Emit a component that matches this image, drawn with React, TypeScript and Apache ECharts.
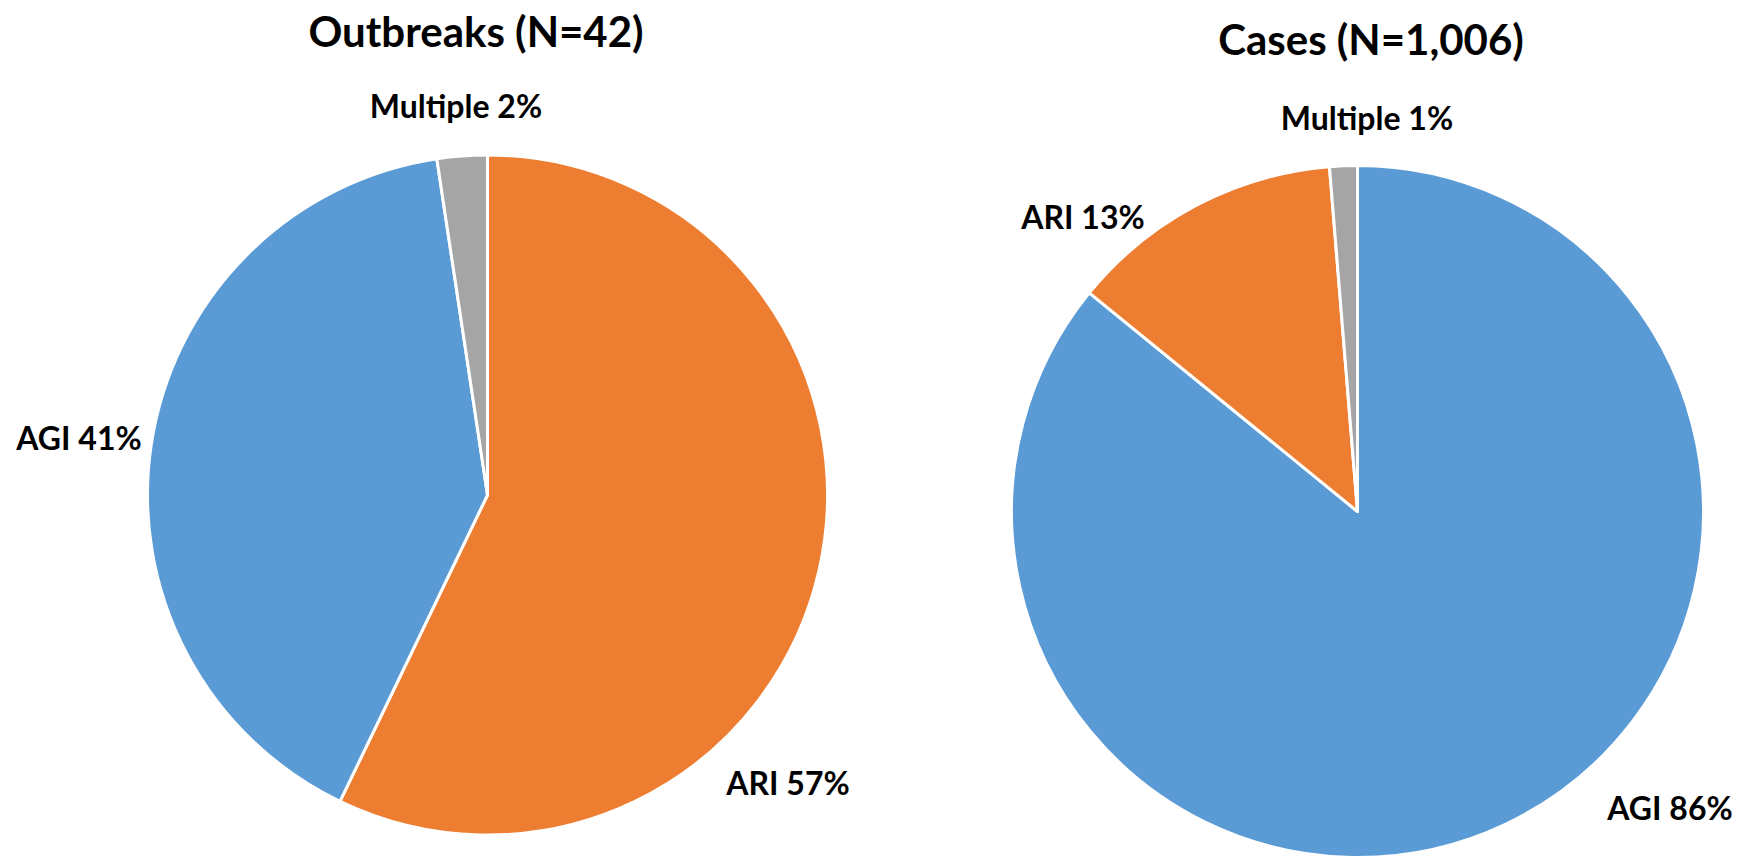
import React, { useEffect, useRef } from "react";
import * as echarts from "echarts";

const outbreakTitle = "Outbreaks (N=42)";
const outbreakCategories = ["ARI", "AGI", "Multiple"];
const outbreakValues = [24, 17, 1];

const caseTitle = "Cases (N=1,006)";
const caseCategories = ["AGI", "ARI", "Multiple"];
const caseValues = [864, 129, 13];

const colorFor: Record<string, string> = {
  ARI: "#ED7D31",
  AGI: "#5B9BD5",
  Multiple: "#A5A5A5",
};

// label anchor positions (layout/style only)
const outbreakLabelPos = [
  [788, 782],
  [79, 437],
  [456, 105],
];
const caseLabelPos = [
  [1670, 807],
  [1083, 216],
  [1367, 117],
];

const FONT = "Lato, 'Open Sans', sans-serif";

export default function App() {
  const ref = useRef<HTMLDivElement>(null);
  useEffect(() => {
    document.body.style.margin = "0";
    const chart = echarts.init(ref.current!, null, { renderer: "svg" });
    const makeSeries = (
      cats: string[],
      vals: number[],
      center: number[],
      radius: number,
      pos: number[][]
    ) => ({
      type: "pie",
      center,
      radius,
      startAngle: 90,
      clockwise: true,
      silent: true,
      percentPrecision: 0,
      avoidLabelOverlap: false,
      data: cats.map((c, i) => ({
        name: c,
        value: vals[i],
        itemStyle: { color: colorFor[c] },
      })),
      itemStyle: { borderColor: "#ffffff", borderWidth: 3 },
      label: {
        show: true,
        position: "outside",
        formatter: "{b} {d}%",
        fontFamily: FONT,
        fontWeight: "bold",
        fontSize: 32,
        color: "#000000",
      },
      labelLine: { show: false },
      labelLayout: (params: any) => ({
        x: pos[params.dataIndex][0],
        y: pos[params.dataIndex][1],
        align: "center",
        verticalAlign: "middle",
        hideOverlap: false,
      }),
    });
    chart.setOption({
      animation: false,
      backgroundColor: "#ffffff",
      title: [
        {
          text: outbreakTitle,
          left: 471,
          top: 5,
          textAlign: "center",
          textStyle: { fontFamily: FONT, fontWeight: "bold", fontSize: 42, color: "#000000" },
        },
        {
          text: caseTitle,
          left: 1366,
          top: 13,
          textAlign: "center",
          textStyle: { fontFamily: FONT, fontWeight: "bold", fontSize: 42, color: "#000000" },
        },
      ],
      series: [
        makeSeries(outbreakCategories, outbreakValues, [487.5, 495], 340, outbreakLabelPos),
        makeSeries(caseCategories, caseValues, [1357.5, 511.5], 346, caseLabelPos),
      ],
    });
    return () => chart.dispose();
  }, []);
  return <div ref={ref} style={{ width: 1741, height: 857 }} />;
}
